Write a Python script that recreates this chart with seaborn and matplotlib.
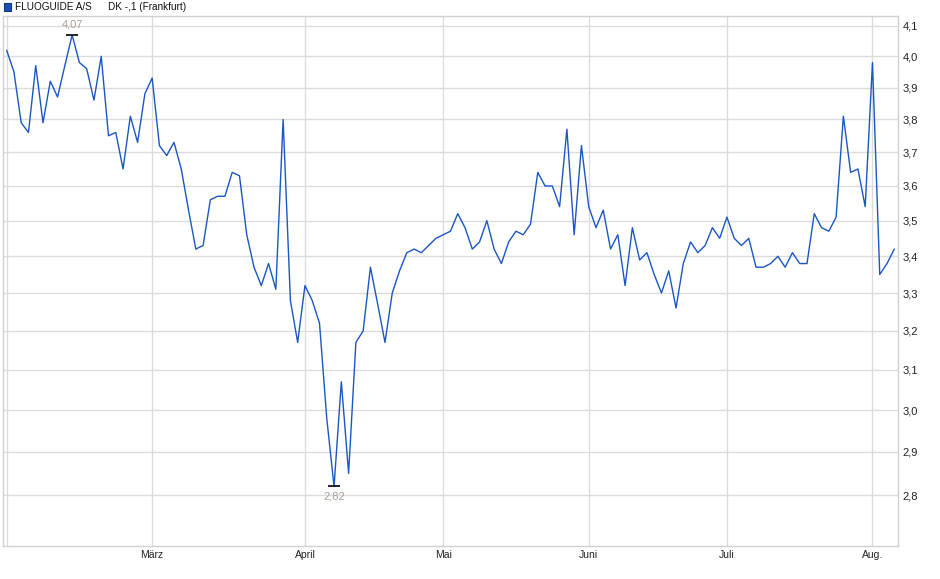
import pandas as pd
import seaborn as sns
import matplotlib
matplotlib.use('Agg')
import matplotlib.pyplot as plt
from matplotlib.ticker import FixedLocator, FuncFormatter, NullLocator
from matplotlib.patches import Rectangle

# daily closing prices (Frankfurt), Feb - early Aug
prices = [4.02, 3.95, 3.79, 3.76, 3.97, 3.79, 3.92, 3.87, 3.97, 4.07,
          3.98, 3.96, 3.86, 4.00, 3.75, 3.76, 3.65, 3.81, 3.73, 3.88,
          3.93, 3.72, 3.69, 3.73, 3.65, 3.53, 3.42, 3.43, 3.56, 3.57,
          3.57, 3.64, 3.63, 3.46, 3.37, 3.32, 3.38, 3.31, 3.80, 3.28,
          3.17, 3.32, 3.28, 3.22, 2.98, 2.82, 3.07, 2.85, 3.17, 3.20,
          3.37, 3.27, 3.17, 3.30, 3.36, 3.41, 3.42, 3.41, 3.43, 3.45,
          3.46, 3.47, 3.52, 3.48, 3.42, 3.44, 3.50, 3.42, 3.38, 3.44,
          3.47, 3.46, 3.49, 3.64, 3.60, 3.60, 3.54, 3.77, 3.46, 3.72,
          3.54, 3.48, 3.53, 3.42, 3.46, 3.32, 3.48, 3.39, 3.41, 3.35,
          3.30, 3.36, 3.26, 3.38, 3.44, 3.41, 3.43, 3.48, 3.45, 3.51,
          3.45, 3.43, 3.45, 3.37, 3.37, 3.38, 3.40, 3.37, 3.41, 3.38,
          3.38, 3.52, 3.48, 3.47, 3.51, 3.81, 3.64, 3.65, 3.54, 3.98,
          3.35, 3.38, 3.42]

# index of the first trading day of each month
month_pos = [0, 20, 41, 60, 80, 99, 119]
month_labels = ['', 'März', 'April', 'Mai', 'Juni', 'Juli', 'Aug.']
y_ticks = [2.8, 2.9, 3.0, 3.1, 3.2, 3.3, 3.4, 3.5, 3.6, 3.7, 3.8, 3.9, 4.0, 4.1]

df = pd.DataFrame({'tag': range(len(prices)), 'kurs': prices})

sns.set_style('white')
plt.rcParams['font.family'] = ['Liberation Sans', 'DejaVu Sans']

W, H = 940, 579
fig = plt.figure(figsize=(W / 100, H / 100), dpi=100)
ax = fig.add_axes([3 / W, 33 / H, 895.3 / W, 530 / H])

sns.lineplot(data=df, x='tag', y='kurs', ax=ax, color='#1a56c4', lw=1)

ax.set_yscale('log')
ax.set_ylim(2.6866, 4.1334)
ax.set_xlim(-0.5, 122.55)
ax.yaxis.set_major_locator(FixedLocator(y_ticks))
ax.yaxis.set_minor_locator(NullLocator())
ax.yaxis.set_major_formatter(FuncFormatter(lambda v, p: f'{v:.1f}'.replace('.', ',')))
ax.yaxis.tick_right()
ax.set_xticks(month_pos, month_labels)
ax.grid(True, color='#dcdcdc', lw=1)
ax.tick_params(axis='y', length=0, labelsize=8, colors='#222222', pad=3)
ax.tick_params(axis='x', length=0, labelsize=7.5, colors='#222222', pad=3)
for s in ax.spines.values():
    s.set_color('#d0d0d0')
    s.set_linewidth(1)
ax.set_xlabel('')
ax.set_ylabel('')

# high / low markers
hi = df['kurs'].idxmax()
lo = df['kurs'].idxmin()
for i, off, va in [(hi, 4, 'bottom'), (lo, -4, 'top')]:
    v = df.loc[i, 'kurs']
    ax.plot(i, v, marker='_', color='black', markersize=9, mew=1.2)
    ax.annotate(f'{v:.2f}'.replace('.', ','), (i, v), xytext=(0, off),
                textcoords='offset points', ha='center', va=va,
                fontsize=8, color='#aa9f95')

# legend header
fig.patches.append(Rectangle((3.5 / W, 1 - 10.5 / H), 7.5 / W, 7.5 / H,
                             transform=fig.transFigure, facecolor='#1d4fb0',
                             edgecolor='#13357a', lw=0.8))
fig.text(15 / W, 1 - 6.5 / H, 'FLUOGUIDE A/S', fontsize=7.2, va='center', color='#111111')
fig.text(108 / W, 1 - 6.5 / H, 'DK -,1 (Frankfurt)', fontsize=7.2, va='center', color='#111111')

fig.savefig('out.png', dpi=100)
